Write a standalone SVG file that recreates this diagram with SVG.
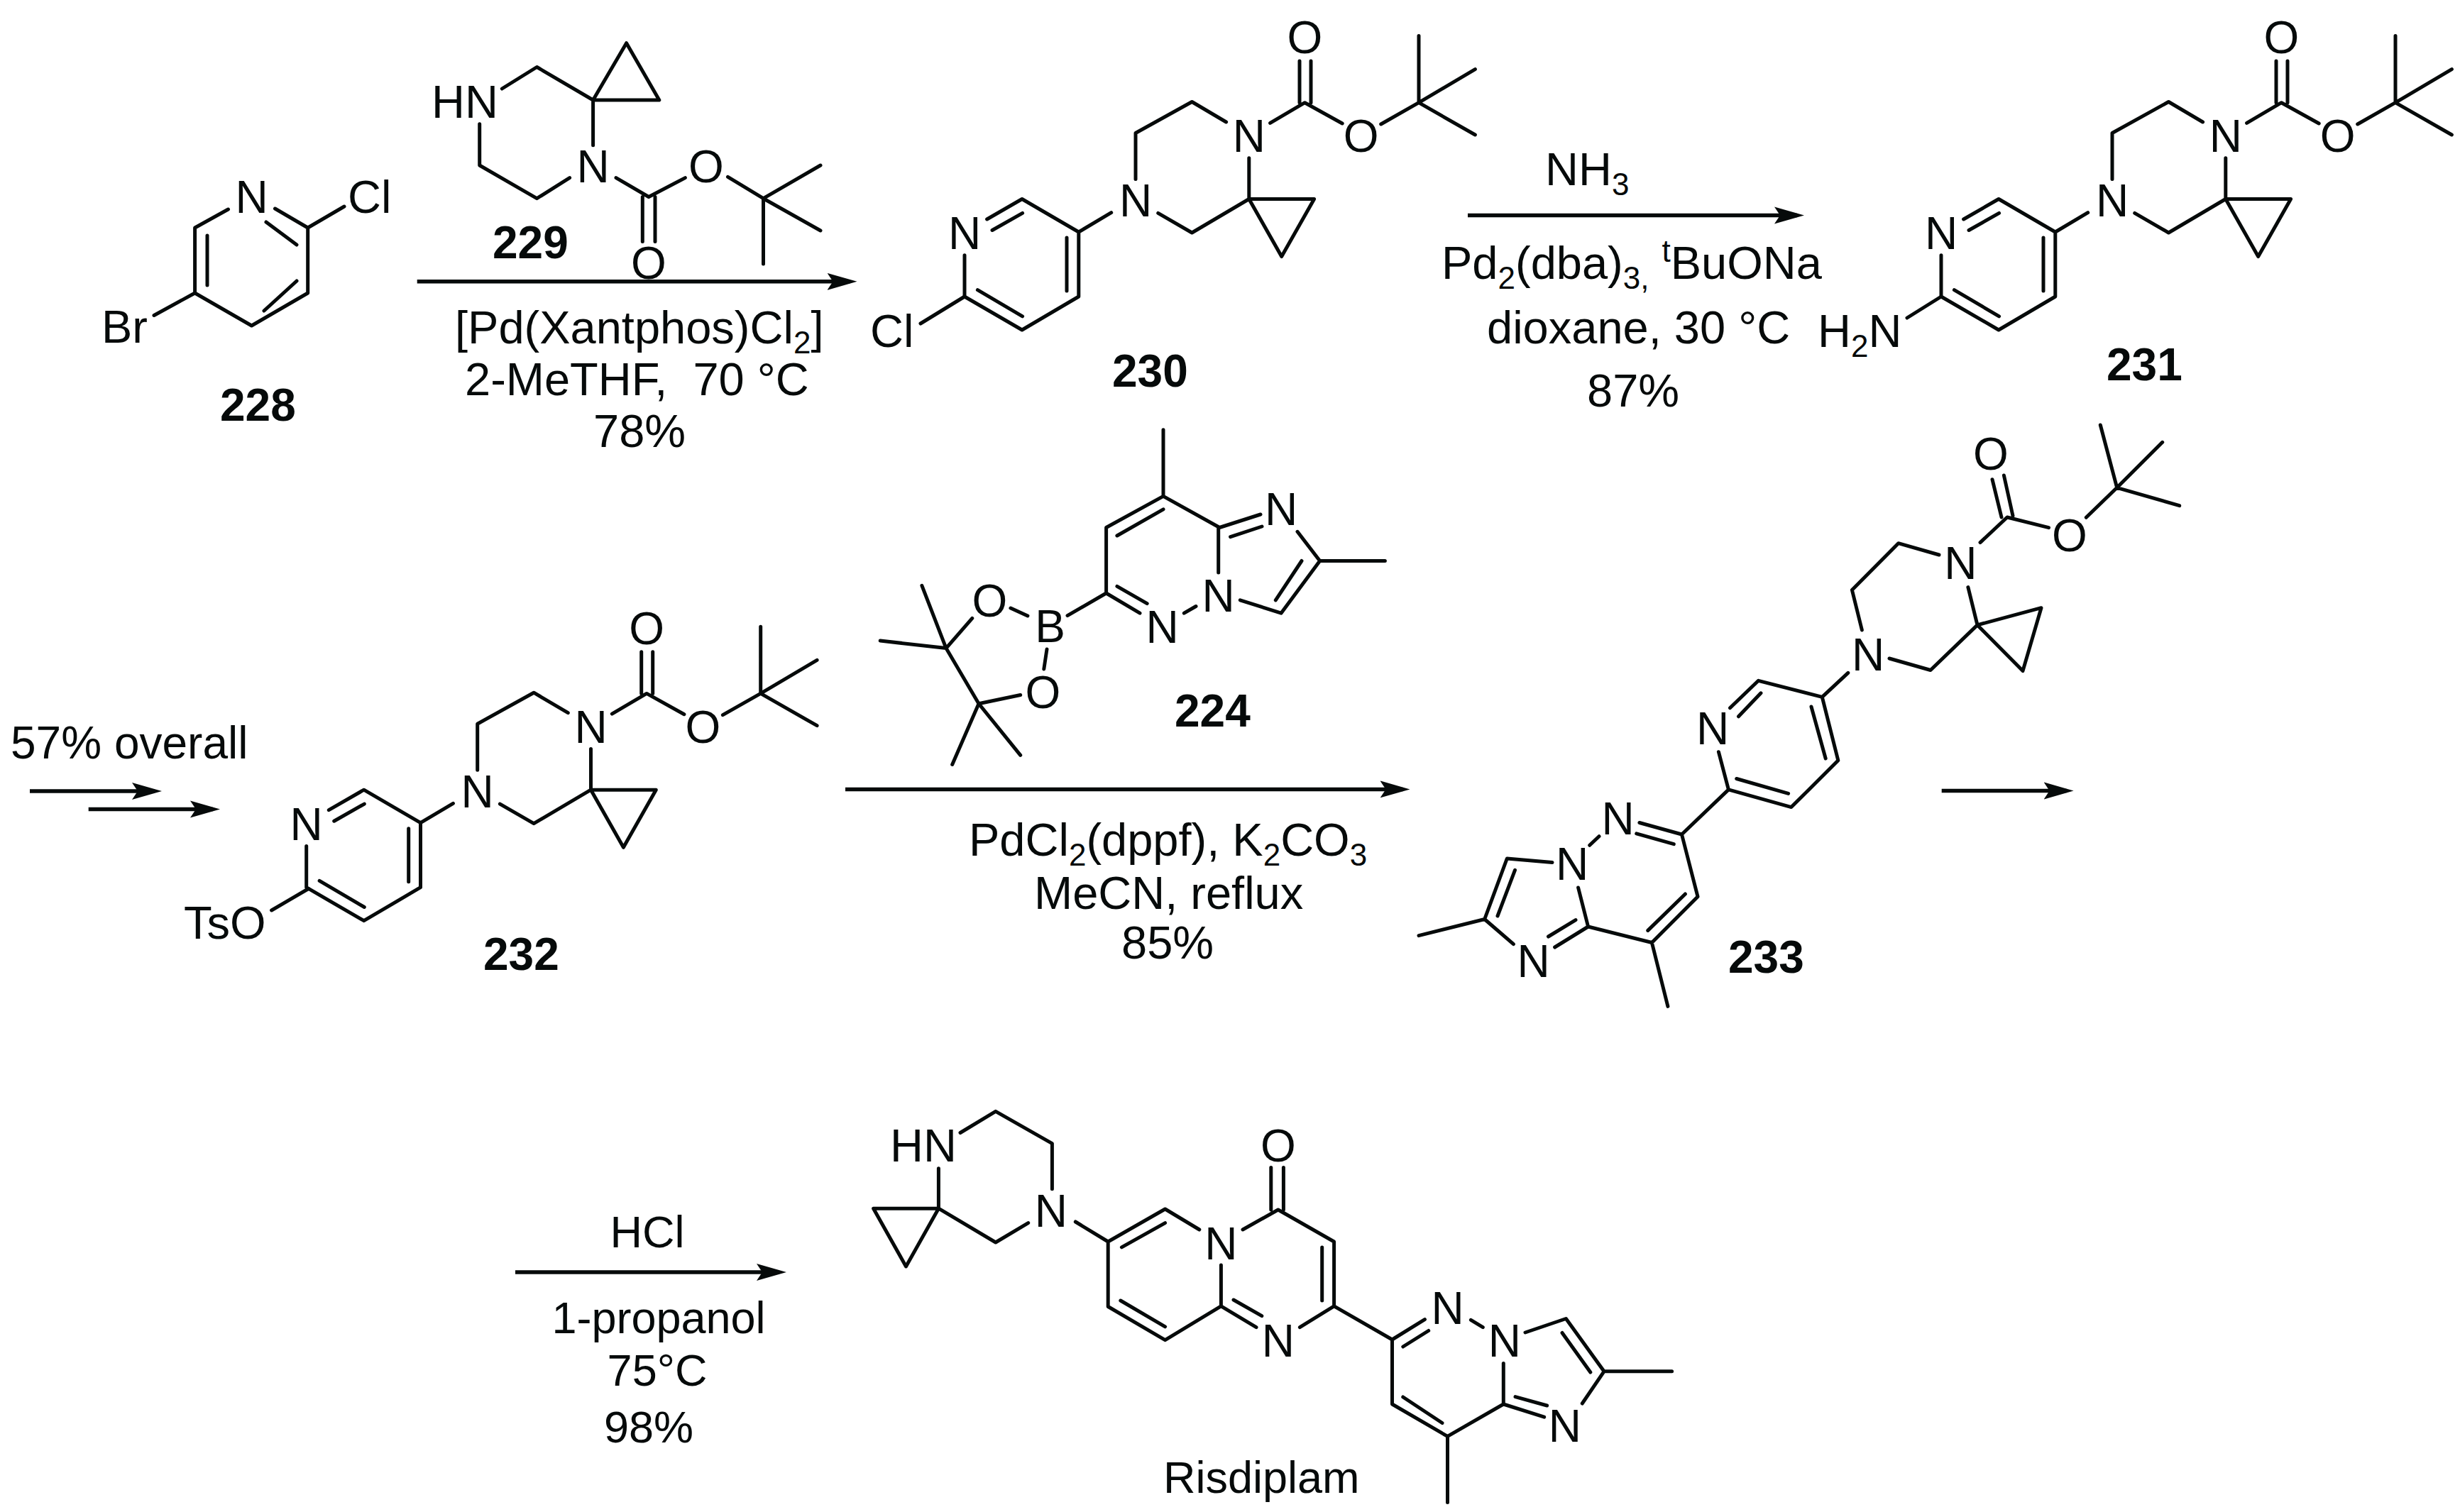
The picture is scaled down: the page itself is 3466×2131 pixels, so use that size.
<svg xmlns="http://www.w3.org/2000/svg" xmlns:xlink="http://www.w3.org/1999/xlink" width="3466" height="2131" viewBox="0 0 3466 2131">
<style>
text{font-family:"Liberation Sans",Arial,sans-serif;font-size:63px;fill:#060a0a}
.a{text-anchor:middle;font-size:64px}
.c{font-weight:bold;font-size:64px}
.g{font-size:65px}
.s{font-size:44px}
.b{fill:none;stroke:#060a0a;stroke-width:5;stroke-linecap:round;stroke-linejoin:round}
.r{stroke:#060a0a;stroke-width:5.5;fill:none;marker-end:url(#ah)}
</style>
<defs>
<marker id="ah" markerUnits="userSpaceOnUse" viewBox="0 0 42 26" refX="32" refY="13" markerWidth="42" markerHeight="26" orient="auto"><polygon points="0,1 42,13 0,25 8,13" fill="#060a0a"/></marker>
<path id="bocSkeleton" class="b" d="M1359 359.700V418L1440 465L1519.800 418V327L1440 280.500L1390.600 309M1398 324.500L1440.600 300.400M1503 335V410M1377.400 408.700L1440.600 445.800M1519.800 327L1565.700 299.700M1600 252.600V187.500L1679.400 143.500L1727.600 172M1759.800 222.700V280.500H1851.600L1805.700 361.600L1759.800 280.500L1679.400 328L1631.700 300.400M1789.600 173.400L1838.400 144.700L1891.200 174M1831 144.700V86M1847 144.700V86M1945.700 175L1999 144.700M1999 50.500V144.700L2078.400 97.600M1999 144.700L2078.400 190"/>
<g id="bocLabels">
<text class="a" x="1359" y="351">N</text>
<text class="a" x="1600" y="305">N</text>
<text class="a" x="1759.800" y="214">N</text>
<text class="a" x="1838.400" y="75.400">O</text>
<text class="a" x="1917.600" y="214">O</text>
</g>
</defs>

<g id="connectors">
<line class="r" x1="587.700" y1="396.800" x2="1197.500" y2="396.800"/>
<line class="r" x1="2068" y1="303.500" x2="2532" y2="303.500"/>
<line class="r" x1="42" y1="1115" x2="218" y2="1115"/>
<line class="r" x1="124.700" y1="1140.400" x2="300" y2="1140.400"/>
<line class="r" x1="1191" y1="1112.400" x2="1976.500" y2="1112.400"/>
<line class="r" x1="2735.700" y1="1114.500" x2="2911.600" y2="1114.500"/>
<line class="r" x1="726" y1="1793" x2="1098" y2="1793"/>
</g>

<g id="compound-228">
<path class="b" d="M321.500 295L274.600 321V413L354.500 459L433.700 413V321L387.500 294M292 332V402M375 313L418 345M418 396L372 438M274.600 413L217 444.500M433.700 321L485 291"/>
<text class="a" x="354.500" y="300">N</text>
<text class="g" x="490" y="300">Cl</text>
<text class="g" x="143" y="483">Br</text>
<text class="c" x="310" y="593">228</text>
</g>

<g id="compound-229">
<path class="b" d="M707.300 125L756.400 94.500L835.600 141L882.600 60.700L928.800 141H835.600V204.700M675.700 174.800V233L756.400 279.700L802.600 250.600M868 250.600L914 277.500L965.400 250.600M905.300 277.500V340.400M923 277.500V340.400M1025.500 249.300L1075.500 279.700L1156 233M1075.500 279.700L1156 325M1075.500 279.700V372"/>
<text class="g" x="608" y="165.600">HN</text>
<text class="a" x="835.600" y="256.700">N</text>
<text class="a" x="994.800" y="256.700">O</text>
<text class="a" x="914" y="392.500">O</text>
<text class="c" x="694" y="364">229</text>
</g>

<g id="compound-230">
<use href="#bocSkeleton" xlink:href="#bocSkeleton"/>
<use href="#bocLabels" xlink:href="#bocLabels"/>
<path class="b" d="M1359 418L1297 456"/>
<text class="g" x="1226" y="488.700">Cl</text>
<text class="c" x="1567" y="545">230</text>
</g>

<g id="compound-231">
<g transform="translate(1376 0)">
<use href="#bocSkeleton" xlink:href="#bocSkeleton"/>
<use href="#bocLabels" xlink:href="#bocLabels"/>
</g>
<path class="b" d="M2735 418L2687 448"/>
<text class="g" x="2561" y="488.700">H<tspan class="s" dy="14">2</tspan><tspan dy="-14">N</tspan></text>
<text class="c" x="2968" y="536">231</text>
</g>

<g id="compound-232">
<g transform="translate(-927.300 832.700)">
<use href="#bocSkeleton" xlink:href="#bocSkeleton"/>
<use href="#bocLabels" xlink:href="#bocLabels"/>
</g>
<path class="b" d="M434.700 1252.500L382.600 1283"/>
<text class="g" x="259" y="1323">TsO</text>
<text class="c" x="681" y="1366.800">232</text>
</g>

<g id="compound-224">
<path class="b" d="M1639 605.800V699.400L1558.600 743.500V836L1606 864.200M1573.900 755L1639 717.800M1573.900 826.400L1616.200 850.600M1639 699.400L1718.300 743.500L1776 725M1733.600 756.600L1778 742M1668.300 864.200L1685 854.500M1716.700 743.500V807M1747.300 845.800L1805 864.200L1859.600 790.500L1828 749.300M1797.300 845.800L1834 790.500M1859.600 790.500H1951.400M1504 867.600L1558.600 836M1423.900 857L1447.900 868M1475 915L1470.800 943M1369.800 871.400L1333 913.600L1298.900 825.400M1333 913.600L1240.200 903M1333 913.600L1379 991.700L1437.700 979.500M1379 991.700L1341.700 1077.500M1379 991.700L1437.700 1064.400"/>
<text class="a" x="1637.700" y="906">N</text>
<text class="a" x="1716.700" y="861.800">N</text>
<text class="a" x="1805" y="739.600">N</text>
<text class="a" x="1479.500" y="905.400">B</text>
<text class="a" x="1394.300" y="869">O</text>
<text class="a" x="1469.300" y="998.400">O</text>
<text class="c" x="1655" y="1024">224</text>
</g>

<g id="compound-233">
<path class="b" d="M2807 675.700L2820 729M2823.400 670L2836 727M2790 764.600L2828 729L2886.500 743.700M2939.300 729.300L2982.700 687.300L2959.300 599M2982.700 687.300L3046.700 623.300M2982.700 687.300L3070.700 712.700M2732 782L2674.700 765.700L2609.400 831.500L2623.400 888M2772.900 827.600L2786 880.900L2876 856.700L2850 945.600L2786 880.900L2720 944.500L2662 928M2603.800 948.300L2567.300 982.300L2477.500 959.300L2437.500 997.700M2481 976.800L2449.500 1009.800M2421.400 1059.700L2435.400 1112.900L2523.800 1137.600L2589.800 1071.700L2567.300 982.300M2446.700 1097.500L2519.600 1118.400M2572.200 1069L2552 996M2435.400 1112.900L2369.500 1176L2309.900 1159.500M2358.300 1189.700L2305.700 1174.900M2253 1178.700L2239.700 1191.300M2369.500 1176L2392 1263.700L2327.400 1328.500L2237.600 1306L2223.600 1251M2374.400 1260L2321.800 1311.400M2327.400 1328.500L2349.900 1418.400M2237.600 1306L2190.600 1335M2220 1296.600L2181.500 1320M2132.400 1330.700L2091.700 1295.500L1999 1318.600M2091.700 1295.500L2123.300 1210L2187 1215.500M2110 1291L2134.500 1226.400"/>
<text class="a" x="2805" y="662">O</text>
<text class="a" x="2916" y="776.600">O</text>
<text class="a" x="2762.400" y="815.600">N</text>
<text class="a" x="2632" y="944.500">N</text>
<text class="a" x="2413" y="1048.700">N</text>
<text class="a" x="2279.700" y="1176">N</text>
<text class="a" x="2215.200" y="1239.600">N</text>
<text class="a" x="2160.500" y="1377">N</text>
<text class="c" x="2435" y="1370.700">233</text>
</g>

<g id="compound-risdiplam">
<path class="b" d="M1322.400 1646.700V1703.200H1230.600L1276.500 1785L1322.400 1703.200L1402.800 1751L1448.700 1723.600M1482.400 1675.700V1611.600L1402.800 1566.400L1353 1596.500M1515.300 1722L1561.200 1750L1641.600 1704L1689.800 1733M1580.400 1757.900L1641.600 1723.600M1751 1733L1800.800 1705L1879.600 1750V1840.800L1831.400 1870.600M1790.800 1705V1645.500M1808.400 1705V1645.500M1862.700 1757.900V1833M1770 1870.600L1720.400 1840.800V1783M1738 1832L1777.800 1854.700M1720.400 1840.800L1641.600 1888.700L1561.200 1841.500V1750M1641.600 1869.800L1578.800 1833M1879.600 1840.800L1961.500 1888L2007.400 1859.600M1976.800 1898L2012.700 1875.500M2072.400 1860.400L2089.300 1870.600M2149 1878L2206.400 1858.500L2260 1932.800H2355.600M2201 1878.500L2240.800 1934M2260 1932.800L2229.300 1978M2175.700 1997.200L2118.300 1979V1921.500M2179.600 1981L2135 1968.600M2118.300 1979L2039.500 2024.400V2117.500M2039.500 2024.400L1961.500 1979V1888M2032 2005.500L1976.800 1969"/>
<text class="g" x="1254" y="1637">HN</text>
<text class="a" x="1480.900" y="1729">N</text>
<text class="a" x="1720.400" y="1774.500">N</text>
<text class="a" x="1800.800" y="1637">O</text>
<text class="a" x="1800.800" y="1912.400">N</text>
<text class="a" x="2039.500" y="1866">N</text>
<text class="a" x="2119.900" y="1912.400">N</text>
<text class="a" x="2204.800" y="2032">N</text>
<text x="1639" y="2104">Risdiplam</text>
</g>

<g id="labels">
<text class="g" x="641" y="483.500">[Pd(Xantphos)Cl<tspan class="s" dy="14">2</tspan><tspan dy="-14">]</tspan></text>
<text class="g" x="655" y="557">2-MeTHF,&#160; 70 °C</text>
<text class="g" x="836" y="630">78%</text>
<text class="g" x="2177" y="261.400">NH<tspan class="s" dy="14">3</tspan></text>
<text class="g" x="2031" y="393">Pd<tspan class="s" dy="14">2</tspan><tspan dy="-14">(dba)</tspan><tspan class="s" dy="14">3,</tspan><tspan dy="-14"> </tspan><tspan class="s" dy="-24">t</tspan><tspan dy="24">BuONa</tspan></text>
<text class="g" x="2095" y="484">dioxane, 30 °C</text>
<text class="g" x="2236" y="573">87%</text>
<text style="font-size:64px" x="15" y="1068.600">57% overall</text>
<text class="g" x="1365" y="1206">PdCl<tspan class="s" dy="14">2</tspan><tspan dy="-14">(dppf), K</tspan><tspan class="s" dy="14">2</tspan><tspan dy="-14">CO</tspan><tspan class="s" dy="14">3</tspan></text>
<text class="g" x="1457" y="1281">MeCN, reflux</text>
<text class="g" x="1580" y="1351">85%</text>
<text x="912" y="1758" text-anchor="middle">HCl</text>
<text x="928" y="1879" text-anchor="middle">1-propanol</text>
<text x="926" y="1953" text-anchor="middle">75°C</text>
<text x="914" y="2033" text-anchor="middle">98%</text>
</g>
</svg>
